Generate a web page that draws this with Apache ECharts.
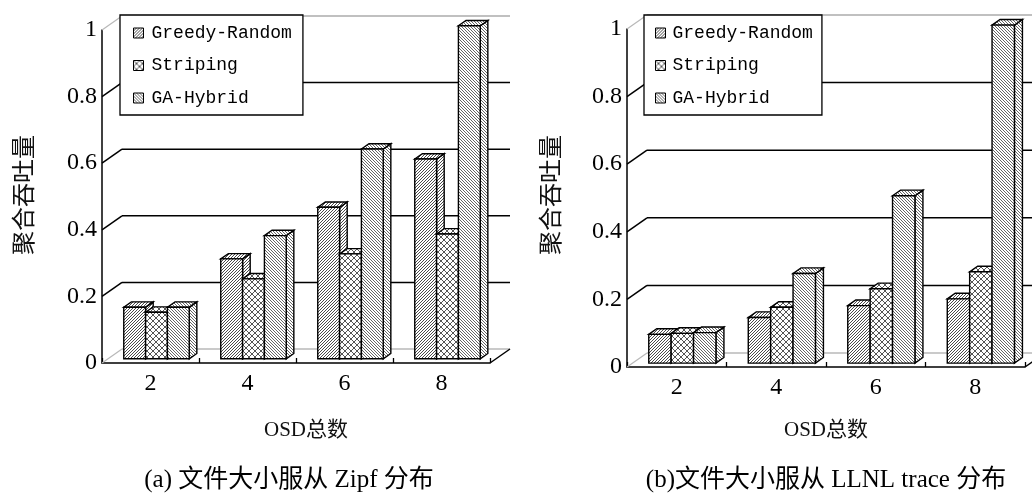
<!DOCTYPE html>
<html>
<head>
<meta charset="utf-8">
<script src="https://cdn.jsdelivr.net/npm/echarts@6/dist/echarts.min.js"></script>
<style>
  html, body { margin: 0; padding: 0; background: #fff; }
  #chart { width: 1032px; height: 496px; }
</style>
</head>
<body>
<div id="chart"></div>
<script>
// Categories (number of OSDs) and tick values
const CATEGORIES = ['2', '4', '6', '8'];
const SERIES_NAMES = ['Greedy-Random', 'Striping', 'GA-Hybrid'];
const Y_TICKS = [0, 0.2, 0.4, 0.6, 0.8, 1];

// (a) Zipf file-size distribution: normalized aggregate throughput
const ZIPF_GREEDY = [0.155, 0.30, 0.455, 0.60];
const ZIPF_STRIPING = [0.14, 0.24, 0.315, 0.375];
const ZIPF_GA = [0.155, 0.37, 0.63, 1.0];

// (b) LLNL trace file-size distribution
const LLNL_GREEDY = [0.085, 0.135, 0.17, 0.19];
const LLNL_STRIPING = [0.088, 0.165, 0.22, 0.27];
const LLNL_GA = [0.09, 0.265, 0.495, 1.0];

const Y_NAME = '聚合吞吐量';
const X_NAME = 'OSD总数';
const CAPTIONS = ['(a) 文件大小服从 Zipf 分布', '(b)文件大小服从 LLNL trace 分布'];

// ---- hatch fills -------------------------------------------------------
function makePattern(size, color, draw) {
  const c = document.createElement('canvas');
  c.width = c.height = size;
  const g = c.getContext('2d');
  g.fillStyle = '#fff';
  g.fillRect(0, 0, size, size);
  g.fillStyle = color;
  draw(g, size);
  return { image: c, repeat: 'repeat' };
}
const PATTERNS = [
  makePattern(3, '#4a4a4a', (g, s) => { for (let i = 0; i < s; i++) g.fillRect(i, s - 1 - i, 1, 1); }),
  makePattern(6, '#555', (g, s) => {
    for (let i = 0; i < s; i++) { g.fillRect(i, i, 1, 1); g.fillRect(i, s - 1 - i, 1, 1); }
  }),
  makePattern(3, '#666', (g, s) => { for (let i = 0; i < s; i++) g.fillRect(i, i, 1, 1); })
];

// ---- panel layout: front plane grid + depth vector of the 3D box -------
const PANELS = [
  { grid: { left: 102, top: 30, width: 388, height: 333 }, depth: [20, -14], barFront: 0.3, barDepth: 0.38,
    data: [ZIPF_GREEDY, ZIPF_STRIPING, ZIPF_GA], legendLeft: 120, legendPad: [8, 11, 7, 13], textPad: 3,
    yNameX: 23, xNameX: 306, captionX: 289 },
  { grid: { left: 627, top: 29, width: 398, height: 338 }, depth: [20, -14], barFront: 0.28, barDepth: 0.4,
    data: [LLNL_GREEDY, LLNL_STRIPING, LLNL_GA], legendLeft: 644, legendPad: [8, 9, 7, 11], textPad: 2,
    yNameX: 550, xNameX: 826, captionX: 826 }
];
const BAR_FRAC = 0.225;
const SERIF = '"Liberation Serif", "Noto Sans CJK SC", serif';
const CJK = '"Noto Sans CJK SC", sans-serif';

// Back wall, floor and the diagonal gridline connectors
function frameRenderer(panel) {
  const [dx, dy] = panel.depth;
  return function (params, api) {
    const cs = params.coordSys;
    const L = cs.x, R = cs.x + cs.width;
    const children = [];
    const line = (x1, y1, x2, y2, color, w) => children.push({
      type: 'line', shape: { x1, y1, x2, y2 },
      style: { stroke: color, lineWidth: w }
    });
    Y_TICKS.forEach((v, idx) => {
      const y = api.coord([0, v])[1];
      const last = idx === Y_TICKS.length - 1;
      if (v === 0) {
        line(L, y, L + dx, y + dy, '#b8b8b8', 1.2);
        line(L + dx, y + dy, R + dx, y + dy, '#b8b8b8', 1.5);
        line(R, y, R + dx, y + dy, '#000', 1.5);
      } else if (last) {
        line(L, y, L + dx, y + dy, '#b8b8b8', 1.2);
        line(L + dx, y + dy, R + dx, y + dy, '#c0c0c0', 1.8);
      } else {
        line(L, y, L + dx, y + dy, '#000', 1.5);
        line(L + dx, y + dy, R + dx, y + dy, '#000', 1.5);
      }
    });
    return { type: 'group', children };
  };
}

// Prism-shaped bar: front face, top face and right side face
function barRenderer(panel, k) {
  const [dx, dy] = panel.depth;
  const fx = panel.barFront * dx, fy = panel.barFront * dy;
  const ox = panel.barDepth * dx, oy = panel.barDepth * dy;
  return function (params, api) {
    const i = api.value(0), v = api.value(1);
    const base = api.coord([i, 0]);
    const top = api.coord([i, v]);
    const w = api.size([1, 0])[0] * BAR_FRAC;
    const x0 = base[0] - 1.5 * w + k * w + fx;
    const x1 = x0 + w;
    const yb = base[1] + fy, yt = top[1] + fy;
    const st = { fill: PATTERNS[k], stroke: '#000', lineWidth: 1.4 };
    return {
      type: 'group',
      children: [
        { type: 'polygon', shape: { points: [[x1, yt], [x1 + ox, yt + oy], [x1 + ox, yb + oy], [x1, yb]] }, style: st },
        { type: 'polygon', shape: { points: [[x0, yt], [x1, yt], [x1 + ox, yt + oy], [x0 + ox, yt + oy]] }, style: st },
        { type: 'rect', shape: { x: x0, y: yt, width: w, height: yb - yt }, style: st }
      ]
    };
  };
}

const grids = [], xAxes = [], yAxes = [], series = [], legends = [], graphics = [];
PANELS.forEach((p, pi) => {
  grids.push(Object.assign({ containLabel: false }, p.grid));
  xAxes.push({
    type: 'category', gridIndex: pi, data: CATEGORIES,
    axisLine: { lineStyle: { color: '#000', width: 1.5 } },
    axisTick: { show: true, inside: true, length: 5, lineStyle: { color: '#000', width: 1.3 } },
    axisLabel: { color: '#000', fontFamily: SERIF, fontSize: 24, margin: 9 },
    splitLine: { show: false }
  });
  yAxes.push({
    type: 'value', gridIndex: pi, min: 0, max: 1, interval: 0.2,
    axisLine: { show: true, lineStyle: { color: '#000', width: 1.5 } },
    axisTick: { show: false },
    axisLabel: { color: '#000', fontFamily: SERIF, fontSize: 24, margin: 5 },
    splitLine: { show: false }
  });
  series.push({
    type: 'custom', name: 'frame' + pi, xAxisIndex: pi, yAxisIndex: pi, silent: true, z: 1,
    data: [[0, 0]], renderItem: frameRenderer(p)
  });
  SERIES_NAMES.forEach((name, k) => {
    series.push({
      type: 'custom', name, xAxisIndex: pi, yAxisIndex: pi, z: 3,
      itemStyle: { color: PATTERNS[k], borderColor: '#000', borderWidth: 1 },
      encode: { x: 0, y: 1 },
      data: p.data[k].map((v, i) => [i, v]),
      renderItem: barRenderer(p, k)
    });
  });
  legends.push({
    data: SERIES_NAMES, orient: 'vertical', left: p.legendLeft, top: 15,
    padding: p.legendPad, itemGap: 12.5, itemWidth: 10, itemHeight: 10,
    backgroundColor: '#fff', borderColor: '#000', borderWidth: 1.3, borderRadius: 0,
    selectedMode: false, icon: 'rect', z: 10,
    itemStyle: { borderColor: '#000', borderWidth: 1 },
    textStyle: { fontFamily: '"Liberation Mono", monospace', fontSize: 18, lineHeight: 20, color: '#000',
      padding: [0, 0, 0, p.textPad] }
  });
  graphics.push(
    { type: 'text', x: p.yNameX, y: 195, rotation: Math.PI / 2,
      style: { text: Y_NAME, font: '24px ' + CJK, fill: '#111', align: 'center', verticalAlign: 'middle' } },
    { type: 'text', x: p.xNameX, y: 430,
      style: { text: X_NAME, font: '21px ' + SERIF, fill: '#111', align: 'center', verticalAlign: 'middle' } },
    { type: 'text', x: p.captionX, y: 480,
      style: { text: CAPTIONS[pi], font: '25px ' + SERIF, fill: '#000', align: 'center', verticalAlign: 'middle' } }
  );
});

const chart = echarts.init(document.getElementById('chart'), null, { renderer: 'canvas' });
chart.setOption({
  animation: false,
  backgroundColor: '#fff',
  grid: grids, xAxis: xAxes, yAxis: yAxes,
  legend: legends, series, graphic: graphics
});
</script>
</body>
</html>
